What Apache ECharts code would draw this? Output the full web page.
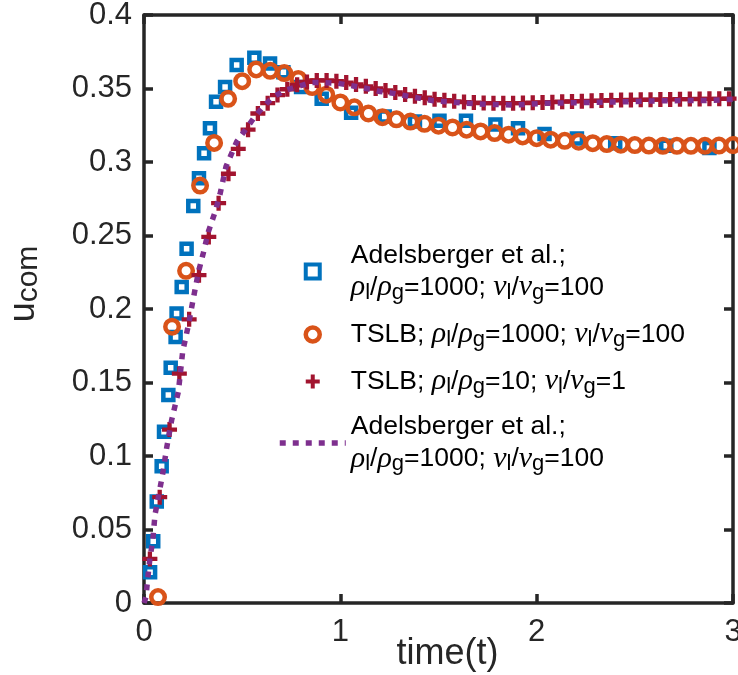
<!DOCTYPE html>
<html>
<head>
<meta charset="utf-8">
<script src="https://cdn.jsdelivr.net/npm/echarts@6/dist/echarts.min.js"></script>
<style>html,body{margin:0;padding:0;background:#fff;}#c{width:738px;height:675px;}</style>
</head>
<body>
<div id="c"></div>
<script>
// Adelsberger et al. (squares)
var sqT = [0.031,0.047,0.065,0.090,0.102,0.124,0.136,0.161,0.166,0.192,0.217,0.251,0.280,0.306,0.336,0.367,0.413,0.472,0.562,0.642,0.710,0.800,0.905,1.055,1.226,1.380,1.505,1.640,1.790,1.905,2.040,2.205,2.400,2.660,2.880];
var sqU = [0.021,0.042,0.069,0.093,0.1165,0.1415,0.160,0.181,0.197,0.215,0.241,0.270,0.289,0.306,0.323,0.341,0.351,0.366,0.371,0.367,0.361,0.351,0.343,0.3335,0.331,0.3275,0.328,0.328,0.3255,0.323,0.319,0.316,0.3127,0.311,0.3095];
// TSLB rho 1000 / nu 100 (circles)
var ciT = [0.0714,0.1429,0.2143,0.2857,0.3571,0.4286,0.5,0.5714,0.6429,0.7143,0.7857,0.8571,0.9286,1.0,1.0714,1.1429,1.2143,1.2857,1.3571,1.4286,1.5,1.5714,1.6429,1.7143,1.7857,1.8571,1.9286,2.0,2.0714,2.1429,2.2143,2.2857,2.3571,2.4286,2.5,2.5714,2.6429,2.7143,2.7857,2.8571,2.9286,3.0];
var ciU = [0.004,0.188,0.226,0.284,0.313,0.343,0.355,0.363,0.362,0.3605,0.3565,0.351,0.3458,0.3405,0.3372,0.333,0.3305,0.329,0.3275,0.326,0.3247,0.3235,0.322,0.3208,0.3197,0.3186,0.3174,0.3162,0.3152,0.3144,0.3138,0.3128,0.3122,0.3118,0.3115,0.3112,0.311,0.311,0.311,0.311,0.3112,0.3115];
// TSLB rho 10 / nu 1 (crosses)
var crT = [0.03,0.08,0.13,0.18,0.23,0.28,0.33,0.38,0.43,0.48,0.53,0.58,0.63,0.68,0.73,0.78,0.83,0.88,0.93,0.98,1.03,1.08,1.13,1.18,1.23,1.28,1.33,1.38,1.43,1.48,1.53,1.58,1.63,1.68,1.73,1.78,1.83,1.88,1.93,1.98,2.03,2.08,2.13,2.18,2.23,2.28,2.33,2.38,2.43,2.48,2.53,2.58,2.63,2.68,2.73,2.78,2.83,2.88,2.93,2.98];
var crU = [0.030,0.072,0.118,0.156,0.193,0.223,0.249,0.272,0.292,0.309,0.322,0.333,0.340,0.3455,0.3495,0.3525,0.3545,0.3555,0.3555,0.355,0.354,0.3528,0.3515,0.350,0.3487,0.3473,0.346,0.3448,0.3437,0.3427,0.342,0.3413,0.3408,0.3404,0.3401,0.340,0.340,0.340,0.3401,0.3403,0.3405,0.3407,0.341,0.3412,0.3414,0.3416,0.3418,0.342,0.3421,0.3422,0.3423,0.3424,0.3425,0.3426,0.3427,0.3428,0.3429,0.343,0.343,0.3431];
// Adelsberger et al. (dotted line)
var plT = [0,0.01,0.017,0.031,0.044,0.056,0.073,0.095,0.116,0.141,0.175,0.197,0.226,0.251,0.277,0.302,0.328,0.362,0.387,0.418,0.472,0.523,0.565,0.608,0.659,0.723,0.791,0.854,0.922,0.99,1.066,1.134,1.202,1.27,1.338,1.406,1.474,1.61,1.754,1.89,2.034,2.17,2.314,2.45,2.594,2.73,2.875,3.0];
var plU = [0,0.004,0.014,0.0315,0.0417,0.06,0.072,0.0877,0.106,0.1245,0.1437,0.171,0.189,0.207,0.225,0.238,0.2526,0.266,0.278,0.297,0.3138,0.323,0.331,0.3376,0.3444,0.349,0.3517,0.354,0.354,0.3535,0.3517,0.350,0.348,0.3467,0.3449,0.3433,0.3417,0.3403,0.3392,0.3388,0.3399,0.3403,0.3406,0.341,0.3415,0.3418,0.3418,0.3427];
var xTicks = [0,1,2,3];
var yTicks = [0,0.05,0.1,0.15,0.2,0.25,0.3,0.35,0.4];

function pairs(t,u){ return t.map(function(v,i){ return [v,u[i]]; }); }

var C_BLUE='#0072BD', C_ORANGE='#D95319', C_RED='#A2142F', C_PURPLE='#7E2F8E', C_AX='#262626';
var crossPath = 'path://M5,0H9V5H14V9H9V14H5V9H0V5H5Z';
var squarePath = 'path://M0,0H10V10H0Z';
var ratioA = '{g|ρ}{s|l}{t|/}{g|ρ}{s|g}{t|=1000; }{g|ν}{s|l}{t|/}{g|ν}{s|g}{t|=100}';
var labels = {
  adelExp: '{t|Adelsberger et al.;}\n' + ratioA,
  tslb1000: '{t|TSLB; }' + ratioA,
  tslb10: '{t|TSLB; }{g|ρ}{s|l}{t|/}{g|ρ}{s|g}{t|=10; }{g|ν}{s|l}{t|/}{g|ν}{s|g}{t|=1}',
  adelLine: '{t|Adelsberger et al.;}\n' + ratioA
};

var chart = echarts.init(document.getElementById('c'), null, {renderer:'canvas'});
var axisCommon = {
  axisLine:{show:true, onZero:false, lineStyle:{color:C_AX, width:3.5}},
  axisTick:{show:true, inside:true, length:9, lineStyle:{color:C_AX, width:3.5}},
  splitLine:{show:false}
};
chart.setOption({
  animation:false,
  grid:{left:144, right:5, top:15, bottom:72, containLabel:false, outerBoundsMode:'none'},
  xAxis:[
    Object.assign({type:'value', min:0, max:3, interval:1, position:'bottom',
      name:'time(t)', nameLocation:'middle', nameGap:33, nameMoveOverlap:false,
      nameTextStyle:{fontFamily:'Liberation Sans', fontSize:36, color:C_AX, padding:[0,0,0,18]},
      axisLabel:{fontFamily:'Liberation Sans', fontSize:31, color:C_AX, margin:14,
        formatter:function(v){ return xTicks.indexOf(v)>=0 ? String(v) : ''; }}}, axisCommon),
    Object.assign({type:'value', min:0, max:3, interval:1, position:'top', axisLabel:{show:false}}, axisCommon)
  ],
  yAxis:[
    Object.assign({type:'value', min:0, max:0.4, interval:0.05, position:'left',
      name:'{u|u}{s|com}', nameLocation:'middle', nameGap:100, nameRotate:90, nameMoveOverlap:false,
      nameTextStyle:{padding:[0,0,0,50], rich:{
        u:{fontFamily:'Liberation Sans', fontSize:36, color:C_AX, lineHeight:40},
        s:{fontFamily:'Liberation Sans', fontSize:30, color:C_AX, lineHeight:22, verticalAlign:'bottom'}
      }},
      axisLabel:{fontFamily:'Liberation Sans', fontSize:31, color:C_AX, margin:12,
        formatter:function(v){ return String(+v.toFixed(2)); }}}, axisCommon),
    Object.assign({type:'value', min:0, max:0.4, interval:0.05, position:'right', axisLabel:{show:false}}, axisCommon)
  ],
  legend:{
    orient:'vertical', left:277, top:242, padding:0, itemWidth:66, itemHeight:14, itemGap:16,
    selectedMode:false,
    formatter:function(n){ return labels[n]; },
    textStyle:{rich:{
      t:{fontFamily:'Liberation Sans', fontSize:26.5, color:'#000', lineHeight:32},
      g:{fontFamily:'Liberation Serif', fontStyle:'italic', fontSize:30, color:'#000', lineHeight:32},
      s:{fontFamily:'Liberation Sans', fontSize:22, color:'#000', lineHeight:14, verticalAlign:'bottom'}
    }},
    data:[
      {name:'adelExp', icon:squarePath, itemStyle:{color:'rgba(0,0,0,0)', borderColor:C_BLUE, borderWidth:4}},
      {name:'tslb1000', icon:'circle', itemStyle:{color:'rgba(0,0,0,0)', borderColor:C_ORANGE, borderWidth:4.5}},
      {name:'tslb10', icon:crossPath, itemStyle:{color:C_RED, borderWidth:0}},
      {name:'adelLine', itemStyle:{color:'rgba(0,0,0,0)', borderColor:'rgba(0,0,0,0)', borderWidth:0, opacity:0},
        lineStyle:{color:C_PURPLE, width:5.5, type:[6,7], cap:'butt', opacity:1}}
    ]
  },
  series:[
    {name:'adelExp', type:'scatter', data:pairs(sqT,sqU), symbol:'rect', symbolSize:10,
      itemStyle:{color:'rgba(0,0,0,0)', borderColor:C_BLUE, borderWidth:4.5, opacity:1}},
    {name:'tslb1000', type:'scatter', data:pairs(ciT,ciU), symbol:'circle', symbolSize:13.5,
      itemStyle:{color:'rgba(0,0,0,0)', borderColor:C_ORANGE, borderWidth:4.5, opacity:1}},
    {name:'tslb10', type:'scatter', data:pairs(crT,crU), symbol:crossPath, symbolSize:15,
      itemStyle:{color:C_RED, opacity:1}},
    {name:'adelLine', type:'line', data:pairs(plT,plU), showSymbol:false, symbol:'none', smooth:false,
      lineStyle:{color:C_PURPLE, width:5.5, type:[6,7], cap:'butt'}, z:3}
  ]
});
</script>
</body>
</html>
